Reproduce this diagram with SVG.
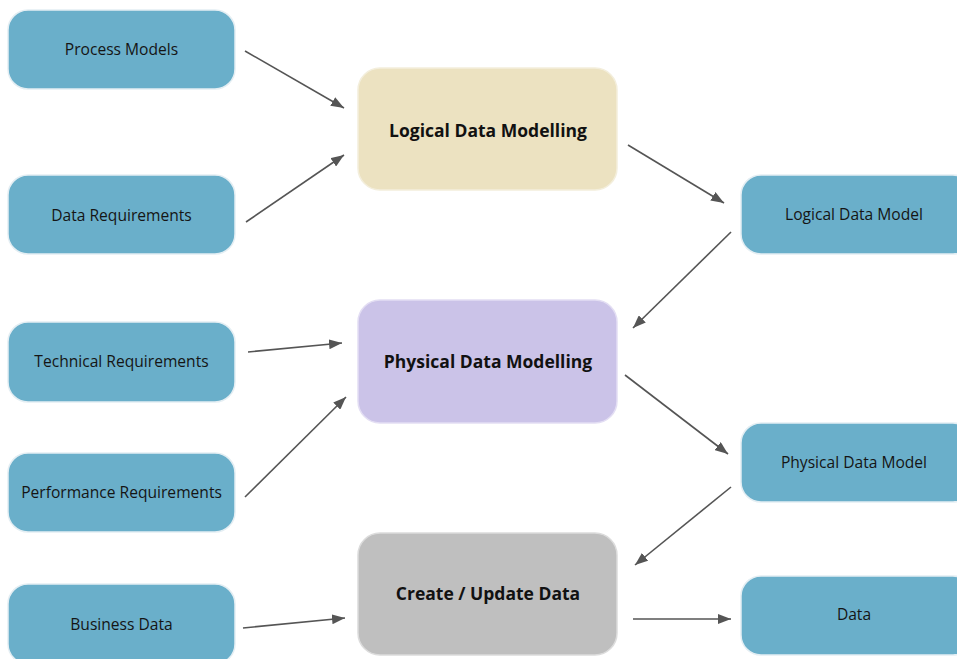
<svg xmlns="http://www.w3.org/2000/svg" width="957" height="659" viewBox="0 0 957 659">
<defs>
<style>
.b rect{fill:#6aafca;stroke:#e4eef3;stroke-width:1.5}
.b text{font-family:"Open Sans","Liberation Sans",sans-serif;font-size:15.6px;fill:#151515;text-anchor:middle;dominant-baseline:central}
.m text{font-family:"Open Sans","Liberation Sans",sans-serif;font-size:17.5px;font-weight:bold;fill:#111;text-anchor:middle;dominant-baseline:central}
.c line{stroke:#555;stroke-width:1.6;fill:none}
</style>
<marker id="ah" viewBox="0 0 10 10" refX="10" refY="5" markerWidth="13" markerHeight="10" markerUnits="userSpaceOnUse" orient="auto" preserveAspectRatio="none">
<path d="M0,0 L10,5 L0,10 z" fill="#555"/>
</marker>
</defs>
<rect width="957" height="659" fill="#fff"/>
<g id="process-models" class="b"><rect x="8" y="10" width="227" height="79" rx="20"/><text x="121.5" y="49">Process Models</text></g>
<g id="data-requirements" class="b"><rect x="8" y="175" width="227" height="79" rx="20"/><text x="121.5" y="215">Data Requirements</text></g>
<g id="technical-requirements" class="b"><rect x="8" y="322" width="227" height="80" rx="20"/><text x="121.5" y="361">Technical Requirements</text></g>
<g id="performance-requirements" class="b"><rect x="8" y="453" width="227" height="79" rx="20"/><text x="121.5" y="492">Performance Requirements</text></g>
<g id="business-data" class="b"><rect x="8" y="584" width="227" height="80" rx="20"/><text x="121.5" y="624">Business Data</text></g>
<g id="logical-data-modelling" class="m"><rect x="358" y="68" width="259" height="122" rx="22" fill="#ece2c1" stroke="#f3eedc" stroke-width="1.5"/><text x="488" y="130">Logical Data Modelling</text></g>
<g id="physical-data-modelling" class="m"><rect x="358" y="300" width="259" height="123" rx="22" fill="#cbc3e8" stroke="#e3def3" stroke-width="1.5"/><text x="488" y="361">Physical Data Modelling</text></g>
<g id="create-update-data" class="m"><rect x="358" y="533" width="259" height="122" rx="22" fill="#bfbfbf" stroke="#dcdcdc" stroke-width="1.5"/><text x="488" y="593">Create / Update Data</text></g>
<g id="logical-data-model" class="b"><rect x="741" y="175" width="232" height="79" rx="20"/><text x="854" y="214">Logical Data Model</text></g>
<g id="physical-data-model" class="b"><rect x="741" y="423" width="232" height="79" rx="20"/><text x="854" y="462">Physical Data Model</text></g>
<g id="data" class="b"><rect x="741" y="576" width="232" height="79" rx="20"/><text x="854" y="614">Data</text></g>
<g id="connectors" class="c">
<line x1="245" y1="51" x2="344" y2="108" marker-end="url(#ah)"/>
<line x1="246" y1="222" x2="344" y2="155" marker-end="url(#ah)"/>
<line x1="628" y1="145" x2="724" y2="203" marker-end="url(#ah)"/>
<line x1="731" y1="232" x2="633" y2="328" marker-end="url(#ah)"/>
<line x1="248" y1="352" x2="342" y2="343" marker-end="url(#ah)"/>
<line x1="245" y1="497" x2="346" y2="397" marker-end="url(#ah)"/>
<line x1="625" y1="375" x2="728" y2="454" marker-end="url(#ah)"/>
<line x1="731" y1="487" x2="635" y2="565" marker-end="url(#ah)"/>
<line x1="243" y1="628" x2="345" y2="618" marker-end="url(#ah)"/>
<line x1="633" y1="619" x2="731" y2="619" marker-end="url(#ah)"/>
</g>
</svg>
